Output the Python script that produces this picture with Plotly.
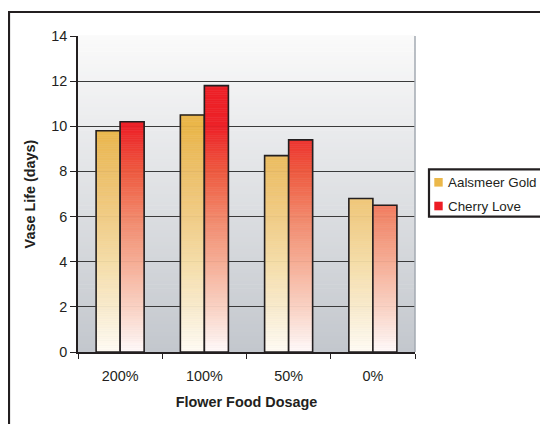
import plotly.graph_objects as go

categories = ["200%", "100%", "50%", "0%"]
series_names = ["Aalsmeer Gold", "Cherry Love"]
aalsmeer_gold = [9.8, 10.5, 8.7, 6.8]
cherry_love = [10.2, 11.8, 9.4, 6.5]
y_ticks = [0, 2, 4, 6, 8, 10, 12, 14]

# gradient stops (value on y axis -> colour), styling only
gold_stops = [(0, (255, 252, 245)), (2, (249, 235, 205)), (4, (245, 221, 168)),
              (6, (241, 204, 133)), (8, (237, 192, 106)), (10, (234, 182, 74)),
              (14, (233, 178, 68))]
red_stops = [(0, (255, 250, 250)), (2, (250, 210, 196)), (4, (246, 173, 149)),
             (6, (242, 135, 106)), (8, (238, 90, 64)), (10, (237, 34, 40)),
             (14, (237, 28, 36))]
legend_colors = ["#ebb84a", "#ed1c24"]
bg_top = (250, 250, 250)
bg_bottom = (195, 199, 205)

# figure geometry (page has an 8px body margin)
W, H = 540, 416
L, R, T, B = 70, 407, 28, 344
PW, PH = R - L, B - T


def px(X):
    return (X - L) / PW


def py(Y):
    return (B - Y) / PH


def interp(stops, v):
    for (a, ca), (b, cb) in zip(stops, stops[1:]):
        if a <= v <= b:
            t = (v - a) / (b - a)
            c = [round(ca[i] + (cb[i] - ca[i]) * t) for i in range(3)]
            return "rgb(%d,%d,%d)" % tuple(c)
    return "rgb(%d,%d,%d)" % stops[-1][1]


STEP = 0.1
fig = go.Figure()


def add_series(name, values, stops, group):
    xs, bases, hs, cols = [], [], [], []
    for cat, val in zip(categories, values):
        lo = 0.0
        while lo < val - 1e-9:
            hi = min(val, lo + STEP)
            xs.append(cat)
            bases.append(lo)
            hs.append(hi - lo)
            cols.append(interp(stops, (lo + hi) / 2))
            lo = hi
    fig.add_trace(go.Bar(x=xs, y=hs, base=bases, offsetgroup=group, showlegend=False,
                         marker=dict(color=cols, line=dict(color=cols, width=0.6)),
                         hoverinfo="skip"))
    fig.add_trace(go.Bar(x=categories, y=values, offsetgroup=group, showlegend=False,
                         marker=dict(color="rgba(0,0,0,0)",
                                     line=dict(color="#231f20", width=1.6)),
                         name=name))


add_series(series_names[0], aalsmeer_gold, gold_stops, "a")
add_series(series_names[1], cherry_love, red_stops, "b")

shapes = []
NB = 80
for i in range(NB):
    t0 = i / NB
    t = (i + 0.5) / NB
    c = [round(bg_bottom[k] + (bg_top[k] - bg_bottom[k]) * t) for k in range(3)]
    shapes.append(dict(type="rect", xref="x domain", yref="y domain",
                       x0=0, x1=1, y0=t0, y1=t0 + 1.0 / NB + 0.002,
                       fillcolor="rgb(%d,%d,%d)" % tuple(c), line=dict(width=0),
                       layer="below"))
# right border of plot area
shapes.append(dict(type="line", xref="x domain", yref="y domain", x0=1, x1=1, y0=0, y1=1,
                   line=dict(color="#a3aab2", width=1.5)))
# outer frame
shapes.append(dict(type="rect", xref="paper", yref="paper",
                   x0=px(1), x1=px(W + 20), y0=py(H + 20), y1=py(4),
                   line=dict(color="#231f20", width=2.2), fillcolor="rgba(0,0,0,0)"))
# legend box
shapes.append(dict(type="rect", xref="paper", yref="paper",
                   x0=px(421), x1=px(W + 20), y0=py(208.7), y1=py(161.3),
                   line=dict(color="#231f20", width=2.2), fillcolor="white"))
annotations = []
font = "Liberation Sans, Arial, sans-serif"
for k, (nm, col) in enumerate(zip(series_names, legend_colors)):
    yc = 174.3 + k * 23.7
    shapes.append(dict(type="rect", xref="paper", yref="paper",
                       x0=px(426.3), x1=px(434.7), y0=py(yc + 4.3), y1=py(yc - 4.3),
                       fillcolor=col, line=dict(width=0)))
    annotations.append(dict(xref="paper", yref="paper", x=px(437.5), y=py(yc),
                            xanchor="left", yanchor="middle", text=nm, showarrow=False,
                            font=dict(family=font, size=13.4, color="#231f20")))

fig.update_layout(
    width=W, height=H,
    margin=dict(l=L, r=W - R, t=T, b=H - B, autoexpand=False),
    paper_bgcolor="white", plot_bgcolor="rgba(0,0,0,0)",
    barmode="group", bargap=0.43, bargroupgap=0,
    font=dict(family=font, size=14.4, color="#231f20"),
    shapes=shapes, annotations=annotations,
    showlegend=False,
    xaxis=dict(categoryorder="array", categoryarray=categories, automargin=False,
               showline=True, linecolor="#231f20", linewidth=1.5,
               ticks="outside", tickson="boundaries", ticklen=5, tickcolor="#231f20",
               tickwidth=1.2, showgrid=False, ticklabelstandoff=10,
               title=dict(text="<b>Flower Food Dosage</b>", font=dict(size=14.4), standoff=14)),
    yaxis=dict(range=[0, 14], tickvals=y_ticks, showline=True, linecolor="#231f20",
               automargin=False,
               linewidth=1.5, ticks="outside", ticklen=6, tickcolor="#231f20", tickwidth=1.2,
               showgrid=True, gridcolor="#3a3a3a", gridwidth=1, zeroline=False,
               title=dict(text="<b>Vase Life (days)</b>", font=dict(size=14.4), standoff=12)),
)

fig.write_html("out.html")
